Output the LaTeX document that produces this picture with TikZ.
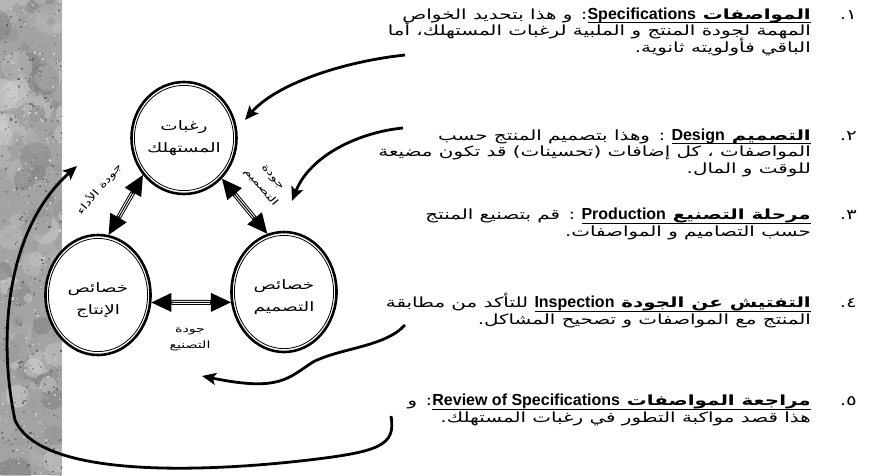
\documentclass[tikz,border=0pt]{standalone}
\usepackage{fontspec}
\usepackage{tikz}
\usetikzlibrary{arrows.meta,shapes.geometric}
\TeXXeTstate=1
\lineskiplimit=-50pt
\newfontfamily\arabicfont[Script=Arabic,FakeStretch=1.42]{DejaVu Sans}
\newfontfamily\latinfont{Liberation Sans}
\newcommand\ar[1]{\beginR#1\endR}
\newcommand\lat[1]{\beginL{\latinfont\bfseries\fontsize{16}{16.5}\selectfont#1}\endL}
\newcommand\ul[1]{\setbox0\hbox{\beginR#1\endR}\dimen0=3pt\advance\dimen0-\dp0
  \vtop{\copy0\kern\dimen0\hrule height1.4pt}}

\begin{document}
\begin{tikzpicture}[x=1pt,y=-1pt,
  wish/.style={ellipse,draw,line width=2.6pt,fill=white,inner sep=0pt,
    font=\arabicfont\fontsize{13}{22}\selectfont,align=center},
  tag/.style={font=\arabicfont\fontsize{10}{16}\selectfont,align=center,inner sep=0pt},
  item/.style={font=\arabicfont\fontsize{14}{16.5}\selectfont,
    align=right,inner sep=0pt,anchor=base east},
  num/.style={font=\arabicfont\fontsize{14}{16.5}\selectfont,inner sep=0pt,anchor=base east},
  link/.style={line width=2.8pt,-{Stealth[length=14pt,width=12pt,inset=3pt]}},
  twin/.style={line width=5pt,{Triangle[length=20pt,width=19pt,line width=0pt]}-{Triangle[length=20pt,width=19pt,line width=0pt]}}]

\useasboundingbox (0,0) rectangle (872,475);

% textured strip on the left
\begin{scope}
  \clip (0,0) rectangle (62,475);
  \fill[black!36] (0,0) rectangle (62,475);
  \pgfmathsetseed{11}
  \foreach \i in {1,...,120}{
    \pgfmathsetmacro\gx{rnd*70-4}
    \pgfmathsetmacro\gy{rnd*485-5}
    \pgfmathsetmacro\gs{15+rnd*40}
    \pgfmathsetmacro\gr{4+rnd*12}
    \fill[black!\gs,opacity=0.45] (\gx,\gy) circle [radius=\gr];
  }
  \foreach \i in {1,...,800}{
    \pgfmathsetmacro\gx{rnd*62}
    \pgfmathsetmacro\gy{rnd*475}
    \pgfmathsetmacro\gs{18+rnd*42}
    \pgfmathsetmacro\gw{0.8+rnd*1.6}
    \fill[black!\gs] (\gx,\gy) rectangle ++(\gw,\gw);
  }
\end{scope}

% the three characteristics
\node[wish,minimum width=105pt,minimum height=112pt] (want) at (184,138) {\ar{رغبات}\\\ar{المستهلك}};
\node[wish,minimum width=105pt,minimum height=120pt] (prod) at (98,295) {\ar{\rule{0pt}{21pt}خصائص}\\\ar{الإنتاج}};
\node[wish,minimum width=105pt,minimum height=120pt] (design) at (284,292) {\ar{\rule{0pt}{21pt}خصائص}\\\ar{التصميم}};
\foreach \n/\rx/\ry in {want/49.6/52.6, prod/49.6/56.6, design/49.6/56.6}
  \draw[line width=0.8pt] (\n.center) ellipse [x radius=\rx, y radius=\ry];

% quality links between them
\foreach \a/\b in {prod.80/want.222, want.313/design.106, prod.352/design.191}{
  \draw[twin] (\a) -- (\b);
  \draw[white,line width=3pt,shorten <=21pt,shorten >=21pt] (\a) -- (\b);
  \draw[line width=1pt,shorten <=21pt,shorten >=21pt] (\a) -- (\b);
}
\node[tag,rotate=50] (perf) at (99,189) {\ar{جودة الأداء}};
\node[tag,rotate=-50] (dq) at (266,183) {\ar{جودة}\\\ar{التصميم}};
\node[tag] (mq) at (190,339) {\ar{جودة}\\\ar{التصنيع}};

% the five steps
\node[item] (spec) at (811,52) {\ar{\ul{\bfseries المواصفات \lat{Specifications}}\kern0pt: و هذا بتحديد الخواص}\\
  \ar{المهمة لجودة المنتج و الملبية لرغبات المستهلك\kern0pt، أما}\\
  \ar{الباقي فأولويته ثانوية\kern0pt.}};
\node[item] (dsgn) at (811,173) {\ar{\ul{\bfseries التصميم \lat{Design}} : وهذا بتصميم المنتج حسب}\\
  \ar{المواصفات ، كل إضافات (تحسينات) قد تكون مضيعة}\\
  \ar{للوقت و المال\kern0pt.}};
\node[item] (mfg) at (811,236) {\ar{\ul{\bfseries مرحلة التصنيع \lat{Production}} : قم بتصنيع المنتج}\\
  \ar{حسب التصاميم و المواصفات\kern0pt.}};
\node[item] (insp) at (811,324) {\ar{\ul{\bfseries التفتيش عن الجودة \lat{Inspection}} للتأكد من مطابقة}\\
  \ar{المنتج مع المواصفات و تصحيح المشاكل\kern0pt.}};
\node[item] (rev) at (811,422) {\ar{\ul{\bfseries مراجعة المواصفات \lat{Review of Specifications}}\kern0pt: و}\\
  \ar{هذا قصد مواكبة التطور في رغبات المستهلك\kern0pt.}};
\node[num] (n1) at (857,19) {\ar{١\kern0pt.}};
\node[num] (n2) at (857,140) {\ar{٢\kern0pt.}};
\node[num] (n3) at (857,219) {\ar{٣\kern0pt.}};
\node[num] (n4) at (857,307) {\ar{٤\kern0pt.}};
\node[num] (n5) at (857,405) {\ar{٥\kern0pt.}};

% arrows from the steps to the diagram
\coordinate (t1) at (405,55);  \coordinate (h1) at (245,120);
\coordinate (t2) at (403,128); \coordinate (h2) at (292,201);
\coordinate (t3) at (405,325); \coordinate (h3) at (202,376);
\coordinate (t4) at (391,416); \coordinate (h4) at (77,166);
\draw[link] (t1) .. controls (340,62) and (275,85) .. (h1);
\draw[link] (t2) .. controls (360,132) and (310,155) .. (h2);
\draw[link] (t3) .. controls (385,347) and (340,348) .. (313,362)
  .. controls (288,378) and (280,392) .. (h3);
\draw[link] (t4) .. controls (396,446) and (380,452) .. (300,461)
  .. controls (200,472) and (40,478) .. (15,420)
  .. controls (-2,340) and (5,230) .. (h4);
\end{tikzpicture}
\end{document}
